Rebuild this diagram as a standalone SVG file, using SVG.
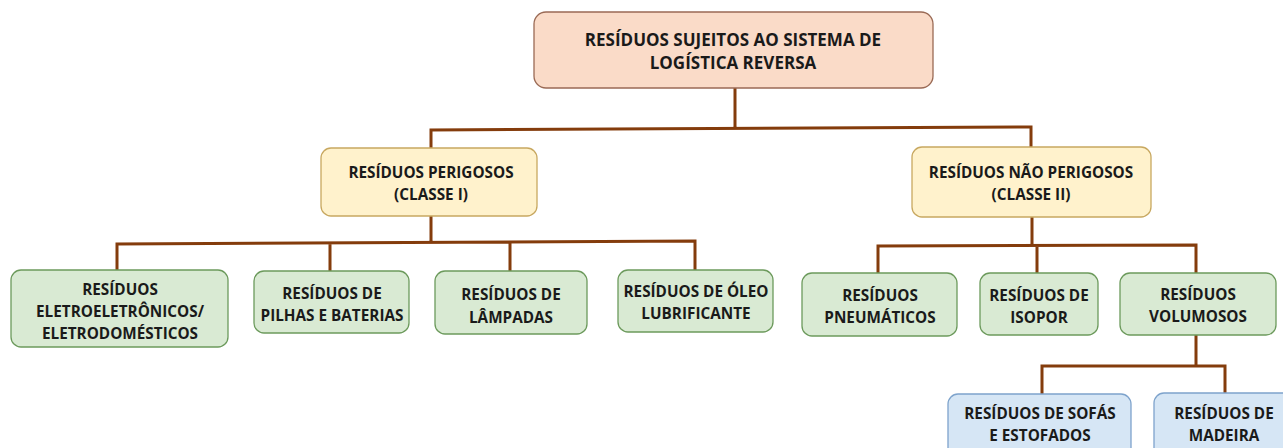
<svg xmlns="http://www.w3.org/2000/svg" width="1283" height="448" viewBox="0 0 1283 448">
<style>
text{font-family:"Open Sans","Liberation Sans",sans-serif;font-weight:bold;font-size:15.3px;fill:#1a1a1a;text-anchor:middle}
text.big{font-size:17px}
.top{fill:#fadbc8;stroke:#9a6a55;stroke-width:1.3}
.yel{fill:#fff2cc;stroke:#c8a860;stroke-width:1.3}
.grn{fill:#d9ead3;stroke:#6c9a5c;stroke-width:1.3}
.blu{fill:#d6e6f5;stroke:#7ea3cc;stroke-width:1.3}
.c{fill:none;stroke:#843c0c;stroke-width:3}
</style>
<g id="connectors">
<path class="c" d="M735,88 V129 M431,148 V130 L1031,127 V147"/>
<path class="c" d="M431,216 V242 M117,270 V244 L695,241 V270 M330,243 V271 M510,242 V271"/>
<path class="c" d="M1032,217 V245 M878,273 V246 L1196,245 V273 M1037,245 V273"/>
<path class="c" d="M1196,335 V366 M1042,394 V366 H1225 V394"/>
</g>
<g id="n-top"><rect class="top" x="534" y="12" width="399" height="76" rx="12"/><text class="big" x="733" y="46">RESÍDUOS SUJEITOS AO SISTEMA DE</text><text class="big" x="733" y="69">LOGÍSTICA REVERSA</text></g>
<g id="n-perigosos"><rect class="yel" x="321" y="148" width="216" height="68" rx="10"/><text x="431" y="178">RESÍDUOS PERIGOSOS</text><text x="431" y="200">(CLASSE I)</text></g>
<g id="n-naoperigosos"><rect class="yel" x="912" y="147" width="239" height="70" rx="10"/><text x="1031" y="178">RESÍDUOS NÃO PERIGOSOS</text><text x="1031" y="200">(CLASSE II)</text></g>
<g id="n-eletro"><rect class="grn" x="11" y="270" width="217" height="77" rx="10"/><text x="120" y="295">RESÍDUOS</text><text x="120" y="317">ELETROELETRÔNICOS/</text><text x="120" y="339">ELETRODOMÉSTICOS</text></g>
<g id="n-pilhas"><rect class="grn" x="254" y="271" width="155" height="62" rx="10"/><text x="332" y="299">RESÍDUOS DE</text><text x="332" y="321">PILHAS E BATERIAS</text></g>
<g id="n-lampadas"><rect class="grn" x="435" y="271" width="152" height="63" rx="10"/><text x="511" y="300">RESÍDUOS DE</text><text x="511" y="323">LÂMPADAS</text></g>
<g id="n-oleo"><rect class="grn" x="618" y="270" width="155" height="62" rx="10"/><text x="696" y="297">RESÍDUOS DE ÓLEO</text><text x="696" y="319">LUBRIFICANTE</text></g>
<g id="n-pneu"><rect class="grn" x="802" y="273" width="155" height="63" rx="10"/><text x="880" y="301">RESÍDUOS</text><text x="880" y="323">PNEUMÁTICOS</text></g>
<g id="n-isopor"><rect class="grn" x="980" y="273" width="118" height="62" rx="10"/><text x="1039" y="301">RESÍDUOS DE</text><text x="1039" y="323">ISOPOR</text></g>
<g id="n-volumosos"><rect class="grn" x="1120" y="273" width="156" height="62" rx="10"/><text x="1198" y="300">RESÍDUOS</text><text x="1198" y="322">VOLUMOSOS</text></g>
<g id="n-sofas"><rect class="blu" x="948" y="394" width="183" height="70" rx="10"/><text x="1040" y="419">RESÍDUOS DE SOFÁS</text><text x="1040" y="441">E ESTOFADOS</text></g>
<g id="n-madeira"><rect class="blu" x="1154" y="393" width="140" height="70" rx="10"/><text x="1224" y="419">RESÍDUOS DE</text><text x="1224" y="441">MADEIRA</text></g>
</svg>
